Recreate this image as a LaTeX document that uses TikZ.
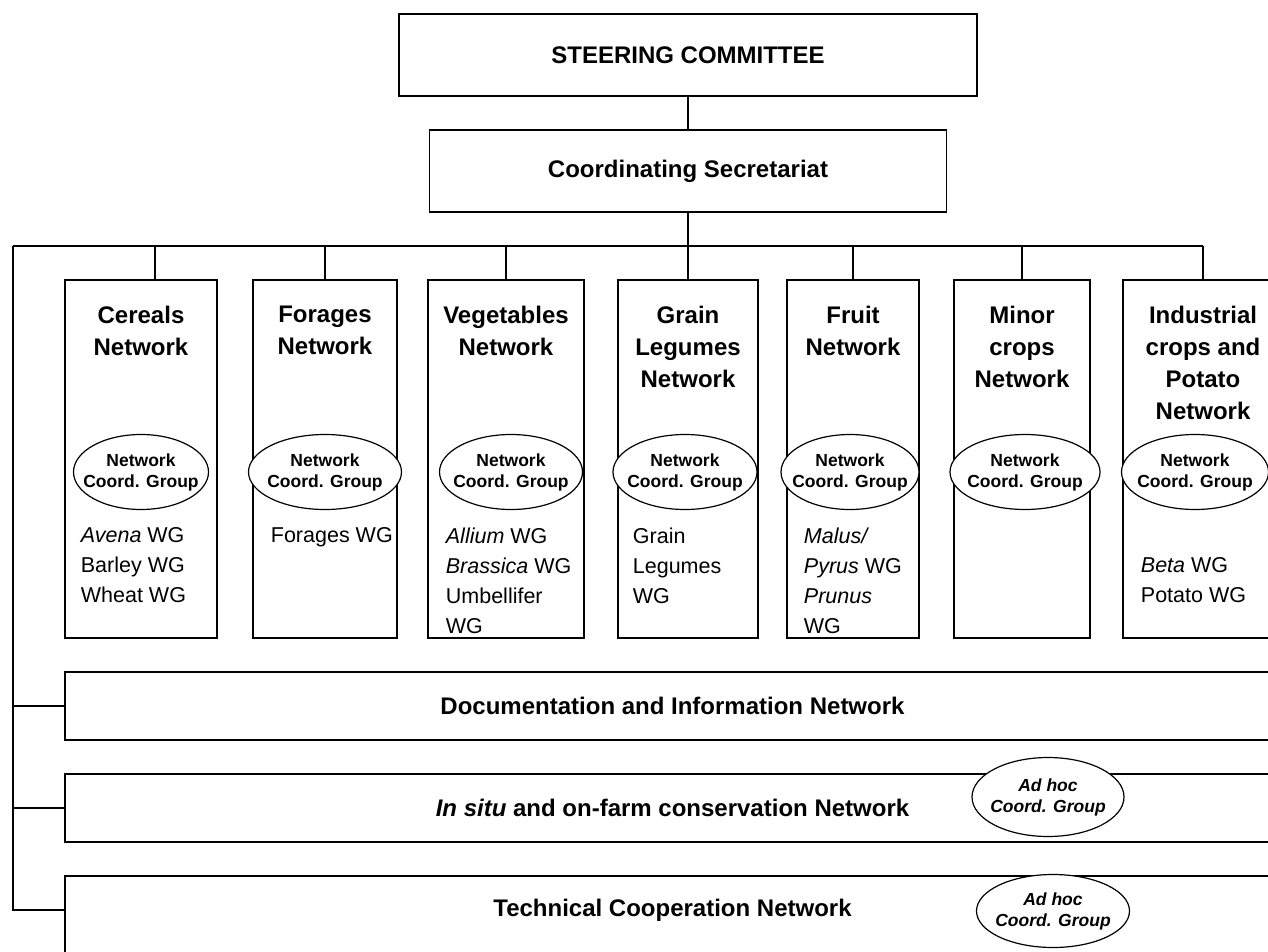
\documentclass[tikz,border=0pt]{standalone}
\usepackage{fontspec}
\setmainfont{Liberation Sans}
\usetikzlibrary{shapes.geometric,positioning}

\begin{document}
\begin{tikzpicture}[x=1pt,y=-1pt,line width=1.8pt,
  box/.style={draw,inner sep=0pt},
  big/.style={font=\bfseries\fontsize{24}{28}\selectfont},
  ttl/.style={font=\bfseries\fontsize{24}{32}\selectfont,align=center,inner sep=0pt},
  wg/.style={font=\fontsize{21.5}{30}\selectfont,align=left,inner sep=0pt,anchor=north west},
  grp/.style={ellipse,draw,fill=white,line width=1.2pt,inner sep=0pt,minimum height=75pt},
  grpT/.style={font=\bfseries\fontsize{17.5}{21}\selectfont,align=center,inner sep=0pt},
  adT/.style={grpT,font=\bfseries\itshape\fontsize{17.5}{21}\selectfont}]
\useasboundingbox (0,0) rectangle (1268,952);
\clip (0,0) rectangle (1268,952);

% top
\node[box,big,minimum width=578pt,minimum height=82pt] (sc) at (688,55) {STEERING COMMITTEE};
\node[box,big,minimum width=517pt,minimum height=82pt] (cs) at (688,171) {Coordinating Secretariat};

% network columns
\node[box,minimum width=152pt,minimum height=358pt] (cer) at (141,459) {};
\node[box,minimum width=144pt,minimum height=358pt] (for) at (325,459) {};
\node[box,minimum width=156pt,minimum height=358pt] (veg) at (506,459) {};
\node[box,minimum width=140pt,minimum height=358pt] (gra) at (688,459) {};
\node[box,minimum width=132pt,minimum height=358pt] (fru) at (853,459) {};
\node[box,minimum width=136pt,minimum height=358pt] (min) at (1022,459) {};
\node[box,minimum width=160pt,minimum height=358pt] (ind) at (1203,459) {};

\node[ttl,below=26pt of cer.north] (cerT) {Cereals\\Network};
\node[ttl,below=26pt of for.north] (forT) {Forages\\Network};
\node[ttl,below=26pt of veg.north] (vegT) {Vegetables\\Network};
\node[ttl,below=26pt of gra.north] (graT) {Grain\\Legumes\\Network};
\node[ttl,below=26pt of fru.north] (fruT) {Fruit\\Network};
\node[ttl,below=26pt of min.north] (minT) {Minor\\crops\\Network};
\node[ttl,below=26pt of ind.north] (indT) {Industrial\\crops and\\Potato\\Network};

\node[grp,minimum width=135pt,label={[grpT]center:Network\\Coord. Group}] (cerG) at (141,472) {};
\node[grp,minimum width=153pt,label={[grpT]center:Network\\Coord. Group}] (forG) at (325,472) {};
\node[grp,minimum width=143pt,label={[grpT]center:Network\\Coord. Group}] (vegG) at (511,472) {};
\node[grp,minimum width=144pt,label={[grpT]center:Network\\Coord. Group}] (graG) at (685,472) {};
\node[grp,minimum width=138pt,label={[grpT]center:Network\\Coord. Group}] (fruG) at (850,472) {};
\node[grp,minimum width=150pt,label={[grpT]center:Network\\Coord. Group}] (minG) at (1025,472) {};
\node[grp,minimum width=147pt,label={[grpT]center:Network\\Coord. Group}] (indG) at (1195,472) {};

\node[wg] (cerW) at (80,527) {\textit{Avena} WG\\Barley WG\\Wheat WG};
\node[wg] (forW) at (270,527) {Forages WG};
\node[wg] (vegW) at (445,527) {\textit{Allium} WG\\\textit{Brassica} WG\\Umbellifer\\WG};
\node[wg] (graW) at (632,527) {Grain\\Legumes\\WG};
\node[wg] (fruW) at (803,527) {\textit{Malus/}\\\textit{Pyrus} WG\\\textit{Prunus}\\WG};
\node[wg] (indW) at (1140,557) {\textit{Beta} WG\\Potato WG};

% horizontal networks
\node[box,big,minimum width=1215pt,minimum height=68pt] (doc) at (672.5,706) {Documentation and Information Network};
\node[box,big,minimum width=1215pt,minimum height=68pt] (situ) at (672.5,808) {\textit{In situ} and on-farm conservation Network};
\node[box,minimum width=1215pt,minimum height=90pt] (tech) at (672.5,921) {};
\node[big] (techT) at ([yshift=11pt]tech.center) {Technical Cooperation Network};

\node[grp,minimum width=152pt,minimum height=79pt,label={[adT]center:Ad hoc\\Coord. Group}] (situG) at (1048,797) {};
\node[grp,minimum width=153pt,minimum height=73pt,label={[adT]center:Ad hoc\\Coord. Group}] (techG) at (1053,911) {};

% connectors
\coordinate (bus) at (13,246);
\coordinate (busR) at (ind.north |- bus);
\draw (sc.south) -- (cs.north);
\draw (cs.south) -- (cs.south |- bus);
\draw (bus) -- (busR);
\draw ([xshift=14pt]cer.north) -- ([xshift=14pt]cer.north |- bus);
\foreach \n in {for,veg,gra,fru,min,ind}
  \draw (\n.north) -- (\n.north |- bus);
\draw (bus) |- (doc.west);
\draw (bus) |- (situ.west);
\draw (bus) |- ([yshift=11pt]tech.west);
\end{tikzpicture}
\end{document}
